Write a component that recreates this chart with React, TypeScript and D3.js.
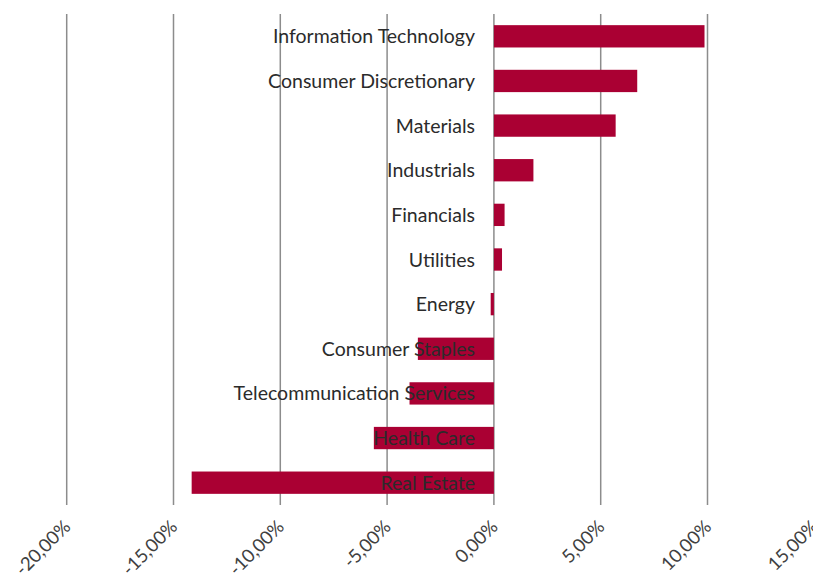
import React from "react";
import * as d3 from "d3";

const categories = [
  "Information Technology",
  "Consumer Discretionary",
  "Materials",
  "Industrials",
  "Financials",
  "Utilities",
  "Energy",
  "Consumer Staples",
  "Telecommunication Services",
  "Health Care",
  "Real Estate",
];
const values = [9.86, 6.71, 5.7, 1.85, 0.5, 0.38, -0.15, -3.56, -3.95, -5.62, -14.15];
const ticks = [-20, -15, -10, -5, 0, 5, 10, 15];

export default function App() {
  const W = 813, H = 581;
  const x = d3.scaleLinear().domain([-20, 15]).range([66.7, 814.3]);
  const y = d3.scaleBand<string>().domain(categories).range([14, 505]).paddingInner(0.5).paddingOuter(0.25);
  const fmt = (v: number) => v.toFixed(2).replace(".", ",") + "%";
  const font = "Lato, 'Open Sans', sans-serif";
  return (
    <svg width={W} height={H} style={{ position: "absolute", left: 0, top: 0, background: "#fff" }}>
      {ticks.map((t) => (
        <line key={"g" + t} x1={x(t)} x2={x(t)} y1={14} y2={505} stroke="#8c8c8c" strokeWidth={1.5} />
      ))}
      {categories.map((c, i) => (
        <rect
          key={c}
          x={x(Math.min(0, values[i]))}
          y={y(c)!}
          width={Math.abs(x(values[i]) - x(0))}
          height={y.bandwidth()}
          fill="#aa0033"
        />
      ))}
      {categories.map((c) => (
        <text
          key={"l" + c}
          x={475}
          y={y(c)! + y.bandwidth() / 2}
          dy="0.36em"
          textAnchor="end"
          fontFamily={font}
          fontSize={19.5}
          fill="#2b2b2b"
        >
          {c}
        </text>
      ))}
      {ticks.map((t) => (
        <text
          key={"t" + t}
          transform={`translate(${x(t) + 5},${528}) rotate(-45)`}
          textAnchor="end"
          fontFamily={font}
          fontSize={18.5}
          fill="#404040"
        >
          {fmt(t)}
        </text>
      ))}
    </svg>
  );
}
